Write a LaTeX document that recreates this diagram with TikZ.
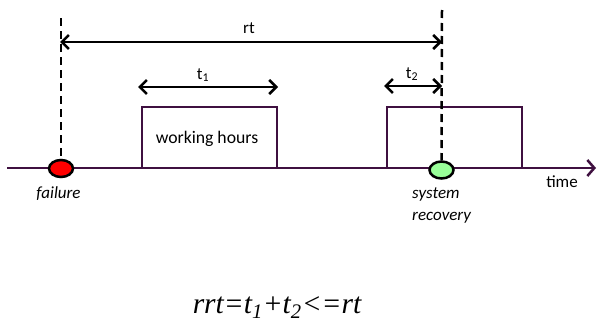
\documentclass[tikz,border=0pt]{standalone}
\usepackage{fontspec}
\setmainfont{Carlito}
\newfontfamily\eqfont{Liberation Serif}
\usetikzlibrary{arrows.meta,shapes.geometric}
\definecolor{tline}{HTML}{3F1040}
\definecolor{failred}{HTML}{FF0000}
\definecolor{recgreen}{HTML}{99FF99}
\tikzset{
  barb/.tip={Straight Barb[length=7pt,width=14pt]},
  dimarrow/.style={line width=2.5pt,barb-barb},
  guide/.style={line width=2.5pt,dash pattern=on 8pt off 5pt},
  hourbox/.style={draw=tline,line width=2.5pt,minimum width=135pt,minimum height=61pt,inner sep=0pt},
  event/.style={ellipse,draw=black,line width=2.5pt,minimum width=24pt,minimum height=17pt,inner sep=0pt},
  lbl/.style={font=\fontsize{17}{19}\selectfont,inner sep=0pt},
  ilbl/.style={font=\fontsize{17}{22}\selectfont\itshape,inner sep=0pt}
}
\begin{document}
\begin{tikzpicture}[x=1pt,y=-1pt]
\useasboundingbox (0,0) rectangle (597,324);
% timeline
\coordinate (tl0) at (7,168);
\coordinate (tl1) at (596,168);
\draw[tline,line width=2.5pt,-{Straight Barb[length=7pt,width=16pt]}] (tl0) -- (tl1);
% boxes
\node[hourbox] (box1) at (209.5,137.5) {};
\node[hourbox] (box2) at (454.5,137.5) {};
\node[lbl,font=\fontsize{17.7}{19}\selectfont] (wh) at (207,139) {working hours};
% guide tops
\coordinate (g1top) at (61,18);
\coordinate (g2top) at (442,10);
% events
\node[event,fill=failred] (fail) at (61,168.5) {};
\node[event,fill=recgreen] (rec) at (441.5,170) {};
\draw[guide] (g1top) -- (fail.north);
\draw[guide] (g2top) -- (rec.north);
% rt arrow
\coordinate (rtL) at (60,42);
\coordinate (rtR) at (442,42);
\draw[dimarrow] (rtL) -- (rtR);
\node[lbl] (rt) at (249,28) {rt};
% t1
\coordinate (t1L) at (138,87);
\coordinate (t1R) at (278,87);
\draw[dimarrow] (t1L) -- (t1R);
\node[lbl] (t1) at (203,75) {t\textsubscript{1}};
% t2
\coordinate (t2L) at (384,86);
\coordinate (t2R) at (442,86);
\draw[dimarrow] (t2L) -- (t2R);
\node[lbl] (t2) at (412,74) {t\textsubscript{2}};
% labels
\node[lbl,anchor=base] (time) at (562,187) {time};
\node[ilbl,anchor=base] (failure) at (58.5,198) {failure};
\node[ilbl,anchor=base west] (sys) at (412,198) {system};
\node[ilbl,anchor=base west] (recv) at (412,220) {recovery};
% equation
\node[font=\fontsize{29.5}{31}\selectfont\eqfont\itshape,inner sep=0pt,anchor=base] (eq) at (277,313) {rrt=t\textsubscript{1}+t\textsubscript{2}<=rt};
\end{tikzpicture}
\end{document}
